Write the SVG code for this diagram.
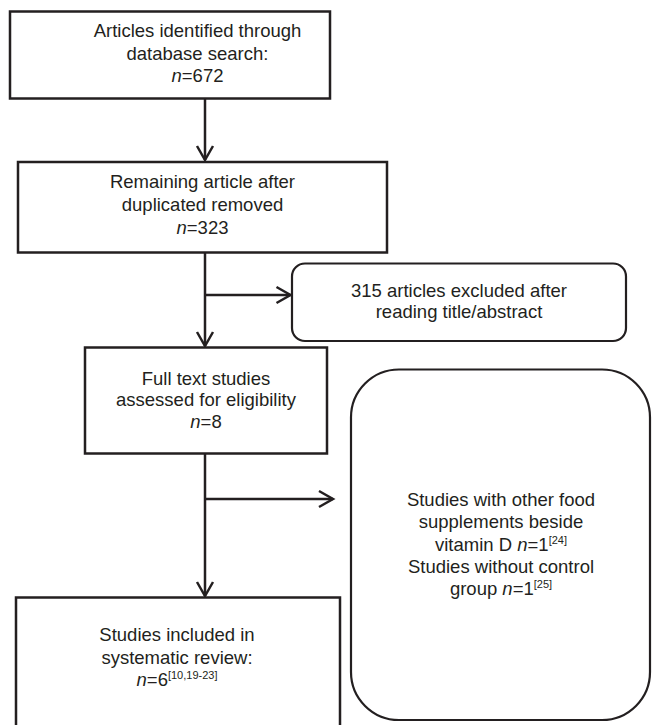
<svg xmlns="http://www.w3.org/2000/svg" width="652" height="725" viewBox="0 0 652 725">
<style>
.box{fill:#fff;stroke:#231f20;stroke-width:2.5}
.rbox{fill:#fff;stroke:#231f20;stroke-width:2.2}
.t{font-family:"Liberation Sans",Arial,sans-serif;font-size:18.5px;fill:#231f20;text-anchor:middle}
.sup{font-size:11px}
.it{font-style:italic}
.c{fill:none;stroke:#231f20;stroke-width:2.5}
</style>
<defs>
<marker id="ah" markerUnits="userSpaceOnUse" markerWidth="20" markerHeight="20" viewBox="-16 -10 18 20" refX="0" refY="0" orient="auto">
<path d="M-14,-8 L0,0 L-14,8" fill="none" stroke="#231f20" stroke-width="2.5"/>
</marker>
</defs>
<g id="connectors">
<path class="c" d="M205,98.5 L205,160" marker-end="url(#ah)"/>
<path class="c" d="M205,252.5 L205,346" marker-end="url(#ah)"/>
<path class="c" d="M205,295 L290.5,295" marker-end="url(#ah)"/>
<path class="c" d="M205,453.5 L205,596" marker-end="url(#ah)"/>
<path class="c" d="M205,499 L333,499" marker-end="url(#ah)"/>
</g>
<g id="n1">
<rect class="box" x="10" y="11.5" width="320" height="87"/>
<text class="t" x="197.5" y="37">Articles identified through</text>
<text class="t" x="197.5" y="59.5">database search:</text>
<text class="t" x="197.5" y="82"><tspan class="it">n</tspan>=672</text>
</g>
<g id="n2">
<rect class="box" x="18" y="162" width="369" height="90.5"/>
<text class="t" x="202.5" y="187.5">Remaining article after</text>
<text class="t" x="202.5" y="211">duplicated removed</text>
<text class="t" x="202.5" y="234"><tspan class="it">n</tspan>=323</text>
</g>
<g id="n3">
<rect class="rbox" x="292" y="263.5" width="334" height="77.5" rx="13"/>
<text class="t" x="459" y="296.5">315 articles excluded after</text>
<text class="t" x="459" y="318">reading title/abstract</text>
</g>
<g id="n4">
<rect class="box" x="85" y="347.5" width="242" height="106"/>
<text class="t" x="206" y="384.5">Full text studies</text>
<text class="t" x="206" y="406">assessed for eligibility</text>
<text class="t" x="206" y="428"><tspan class="it">n</tspan>=8</text>
</g>
<g id="n5">
<rect class="rbox" x="351" y="369.5" width="299" height="350.5" rx="48"/>
<text class="t" x="501" y="506">Studies with other food</text>
<text class="t" x="501" y="528">supplements beside</text>
<text class="t" x="501" y="550.5">vitamin D <tspan class="it">n</tspan>=1<tspan class="sup" dy="-7">[24]</tspan></text>
<text class="t" x="501" y="572.5">Studies without control</text>
<text class="t" x="501" y="594.5">group <tspan class="it">n</tspan>=1<tspan class="sup" dy="-7">[25]</tspan></text>
</g>
<g id="n6">
<rect class="box" x="16" y="597.5" width="324" height="140"/>
<text class="t" x="177" y="641">Studies included in</text>
<text class="t" x="177" y="663.5">systematic review:</text>
<text class="t" x="177" y="685.5"><tspan class="it">n</tspan>=6<tspan class="sup" dy="-7">[10,19-23]</tspan></text>
</g>
</svg>
